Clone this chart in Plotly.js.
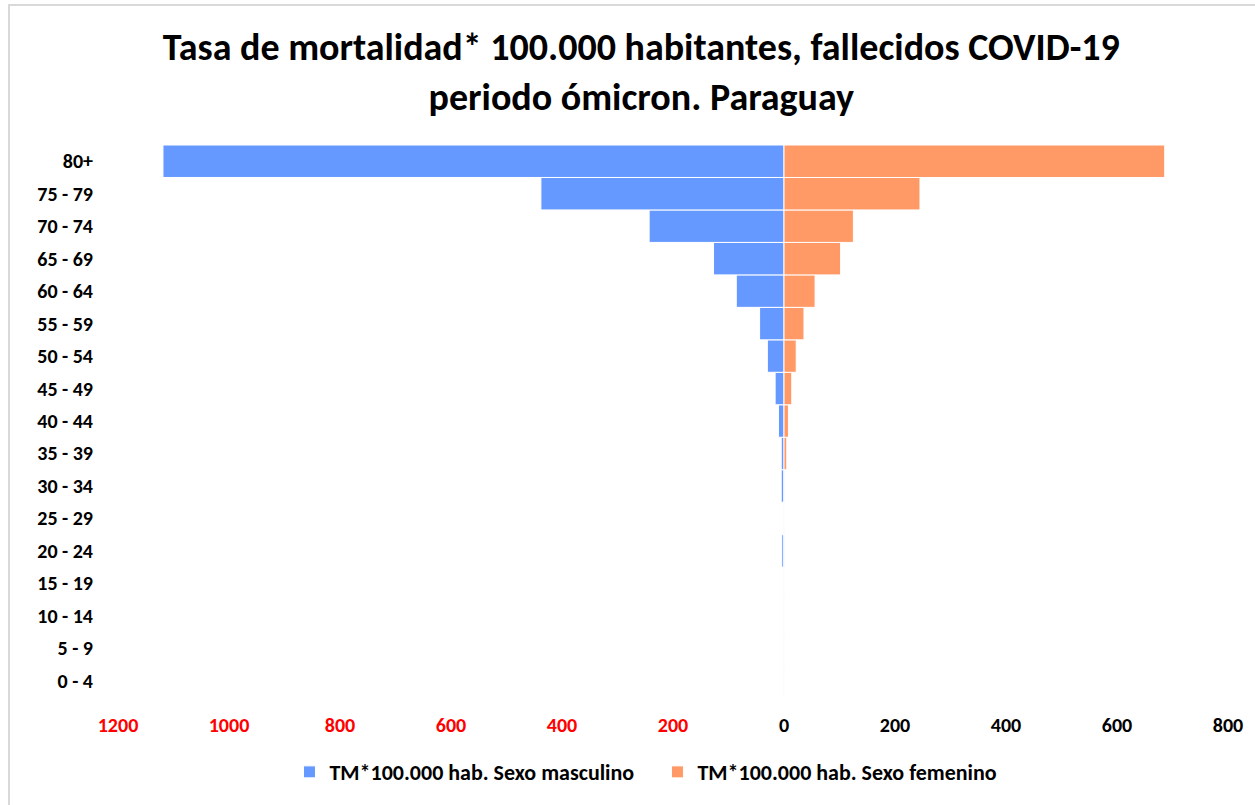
<!DOCTYPE html>
<html>
<head>
<meta charset="utf-8">
<script src="https://cdn.plot.ly/plotly-3.0.1.min.js"></script>
<style>
  html, body { margin: 0; padding: 0; background: #fff; }
  #wrap { position: relative; width: 1255px; height: 805px; }
  #chart { width: 1255px; height: 805px; }
  #frame { position: absolute; left: 8px; top: 4px; width: 1260px; height: 820px;
           border-top: 2px solid #d9d9d9; border-left: 2px solid #d9d9d9; pointer-events: none; }
</style>
</head>
<body>
<div id="wrap">
  <div id="chart"></div>
  <div id="frame"></div>
</div>
<script>
// Age groups (bottom to top)
const ageGroups = ["0 - 4", "5 - 9", "10 - 14", "15 - 19", "20 - 24", "25 - 29", "30 - 34",
  "35 - 39", "40 - 44", "45 - 49", "50 - 54", "55 - 59", "60 - 64", "65 - 69",
  "70 - 74", "75 - 79", "80+"];

// Mortality rate per 100,000 inhabitants — males
const maleRate = [0, 0, 0, 0, 4, 0, 5, 5, 10, 16, 30, 44, 86, 127, 243, 438, 1119];
// Mortality rate per 100,000 inhabitants — females
const femaleRate = [0, 0, 0, 0, 0, 0, 0, 5, 8, 14, 22, 36, 56, 102, 125, 245, 686];

const xTickVals = [-1200, -1000, -800, -600, -400, -200, 0, 200, 400, 600, 800];
const xTickText = ["1200", "1000", "800", "600", "400", "200", "0", "200", "400", "600", "800"];

const seriesNames = ["TM*100.000 hab. Sexo masculino", "TM*100.000 hab. Sexo femenino"];

const FONT = "Carlito, 'Liberation Sans Narrow', 'Open Sans', sans-serif";

const traces = [
  {
    type: "bar", orientation: "h", name: seriesNames[0],
    y: ageGroups, x: maleRate.map(v => -v),
    marker: { color: "#6699FF", line: { color: "#ffffff", width: 1 } },
    hoverinfo: "skip"
  },
  {
    type: "bar", orientation: "h", name: seriesNames[1],
    y: ageGroups, x: femaleRate,
    marker: { color: "#FF9966", line: { color: "#ffffff", width: 1 } },
    hoverinfo: "skip"
  }
];

const layout = {
  width: 1255, height: 805,
  paper_bgcolor: "#ffffff", plot_bgcolor: "#ffffff",
  margin: { l: 118, r: 27, t: 145, b: 108 },
  font: { family: FONT, color: "#000" },
  title: {
    text: "<b>Tasa de mortalidad* 100.000 habitantes, fallecidos COVID-19<br>periodo ómicron. Paraguay</b>",
    x: 0.511, xanchor: "center", y: 0.925, yanchor: "top",
    font: { family: FONT, size: 38, color: "#000" }
  },
  barmode: "relative", bargap: 0,
  showlegend: true,
  legend: {
    orientation: "h", x: 0.486, xanchor: "center", y: -0.136, yanchor: "middle",
    font: { family: FONT, size: 22, color: "#000", weight: "bold" }, traceorder: "normal",
    entrywidth: 323, entrywidthmode: "pixels", itemwidth: 30
  },
  xaxis: {
    range: [-1200, 800], tickmode: "array",
    tickvals: xTickVals,
    ticktext: xTickText.map((t, i) => xTickVals[i] < 0 ? '<span style="color:#FF0000">' + t + '</span>' : t),
    tickfont: { family: FONT, size: 20, color: "#000", weight: "bold" },
    showgrid: false, showline: false,
    zeroline: true, zerolinecolor: "#d9d9d9", zerolinewidth: 2,
    ticks: "outside", ticklen: 10, tickcolor: "rgba(0,0,0,0)",
    layer: "above traces", fixedrange: true
  },
  yaxis: {
    type: "category", categoryorder: "array", categoryarray: ageGroups,
    tickfont: { family: FONT, size: 20, color: "#000", weight: "bold" },
    showgrid: false, showline: false, zeroline: false,
    ticks: "outside", ticklen: 20, tickcolor: "rgba(0,0,0,0)",
    fixedrange: true
  }
};

Plotly.newPlot("chart", traces, layout, { displayModeBar: false, staticPlot: true });
</script>
</body>
</html>
